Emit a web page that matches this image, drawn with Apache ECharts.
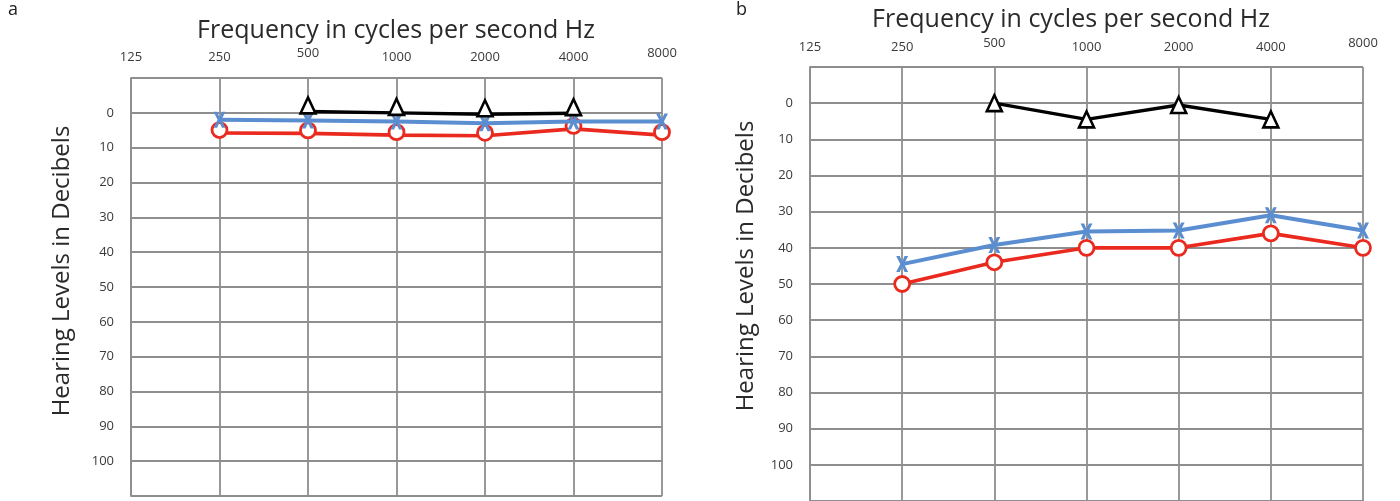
<!DOCTYPE html>
<html>
<head>
<meta charset="utf-8">
<script src="https://cdn.jsdelivr.net/npm/echarts@6/dist/echarts.min.js"></script>
<style>
html,body{margin:0;padding:0;background:#fff;}
#c{width:1400px;height:501px;}
</style>
</head>
<body>
<div id="c"></div>
<script>
// Frequency categories (Hz)
const categories = ['125', '250', '500', '1000', '2000', '4000', '8000'];
// Panel a: hearing levels (dB)
const aRed = [null, 5.8, 5.9, 6.4, 6.6, 4.6, 6.4];
const aBlue = [null, 2.0, 2.2, 2.5, 3.0, 2.5, 2.5];
const aBlack = [null, null, -0.4, 0.0, 0.4, 0.1, null];
// Panel b: hearing levels (dB)
const bRed = [null, 50, 44, 40, 40, 36, 40];
const bBlue = [null, 44.5, 39.2, 35.5, 35.2, 31, 35.2];
const bBlack = [null, null, 0, 4.5, 0.5, 4.5, null];
// Texts
const titleText = 'Frequency in cycles per second Hz';
const yNameText = 'Hearing Levels in Decibels';

const RED = '#ea2a1f';
const BLUE = '#5b8ed0';
const BLACK = '#000000';
const GRIDC = '#8e8e8e';
const FONT = '"Open Sans", "Noto Sans", sans-serif';
const XSYM = 'path://M0,0L3,0L5,4.8L7,0L10,0L6.6,7L10,14L7,14L5,9.2L3,14L0,14L3.4,7Z';

const chart = echarts.init(document.getElementById('c'), null, {renderer: 'canvas'});

function xAxisFor(gi) {
  return {
    type: 'category', gridIndex: gi, position: 'top', data: categories,
    boundaryGap: false,
    axisLine: {show: true, lineStyle: {color: GRIDC, width: 1.8}},
    axisTick: {show: false},
    axisLabel: {
      interval: 0, margin: gi === 0 ? 14 : 13, color: '#3a3a3a', fontSize: 13, fontFamily: FONT,
      formatter: function (v) { return (v === '500' || v === '8000') ? '{up|' + v + '}' : v; },
      rich: {up: {fontSize: 13, fontFamily: FONT, color: '#3a3a3a', padding: [0, 0, 4, 0]}}
    },
    splitLine: {show: true, interval: 0, lineStyle: {color: GRIDC, width: 1.8}}
  };
}
function yAxisFor(gi) {
  return {
    type: 'value', gridIndex: gi, inverse: true, min: -10, max: 110, interval: 10,
    axisLine: {show: true, lineStyle: {color: GRIDC, width: 1.8}},
    axisTick: {show: false},
    axisLabel: {
      margin: 17, color: '#3a3a3a', fontSize: 13, fontFamily: FONT,
      formatter: function (v) { return (v < 0 || v > 100) ? '' : String(v); }
    },
    splitLine: {show: true, lineStyle: {color: GRIDC, width: 1.8}}
  };
}
function redSeries(gi, data, off) {
  return {type: 'line', xAxisIndex: gi, yAxisIndex: gi, data: data, connectNulls: false,
    symbol: 'circle', symbolSize: 15, symbolOffset: [0, off], showAllSymbol: true,
    lineStyle: {color: RED, width: 3.6},
    itemStyle: {color: '#fff', borderColor: RED, borderWidth: 2.8}, z: 2};
}
function blueSeries(gi, data) {
  return {type: 'line', xAxisIndex: gi, yAxisIndex: gi, data: data,
    symbol: XSYM, symbolSize: [12, 16], showAllSymbol: true,
    lineStyle: {color: BLUE, width: 4},
    itemStyle: {color: BLUE, borderWidth: 0}, z: 3};
}
function blackSeries(gi, data, off) {
  return {type: 'line', xAxisIndex: gi, yAxisIndex: gi, data: data,
    symbol: 'triangle', symbolSize: [15, 16], symbolOffset: [0, off], showAllSymbol: true,
    lineStyle: {color: BLACK, width: 3.4},
    itemStyle: {color: '#fff', borderColor: BLACK, borderWidth: 2.6}, z: 4};
}

const option = {
  backgroundColor: '#fff',
  animation: false,
  grid: [
    {left: 131, width: 531, top: 78, height: 418},
    {left: 810, width: 553, top: 67, height: 441}
  ],
  xAxis: [xAxisFor(0), xAxisFor(1)],
  yAxis: [yAxisFor(0), yAxisFor(1)],
  graphic: [
    {type: 'text', left: 8, top: 1, style: {text: 'a', fontSize: 18, fontFamily: FONT, fill: '#222'}},
    {type: 'text', left: 736, top: 1, style: {text: 'b', fontSize: 18, fontFamily: FONT, fill: '#222'}},
    {type: 'text', x: 396, y: 31, style: {text: titleText, fontSize: 25, fontFamily: FONT, fill: '#2a2a2a', textAlign: 'center', textVerticalAlign: 'middle'}},
    {type: 'text', x: 1071, y: 20, style: {text: titleText, fontSize: 25, fontFamily: FONT, fill: '#2a2a2a', textAlign: 'center', textVerticalAlign: 'middle'}},
    {type: 'text', x: 62, y: 271, rotation: Math.PI / 2, style: {text: yNameText, fontSize: 24, fontFamily: FONT, fill: '#2a2a2a', textAlign: 'center', textVerticalAlign: 'middle'}},
    {type: 'text', x: 746, y: 266, rotation: Math.PI / 2, style: {text: yNameText, fontSize: 24, fontFamily: FONT, fill: '#2a2a2a', textAlign: 'center', textVerticalAlign: 'middle'}}
  ],
  series: [
    redSeries(0, aRed, -3), blueSeries(0, aBlue), blackSeries(0, aBlack, -6),
    redSeries(1, bRed, 0), blueSeries(1, bBlue), blackSeries(1, bBlack, 0)
  ]
};
chart.setOption(option);
</script>
</body>
</html>
